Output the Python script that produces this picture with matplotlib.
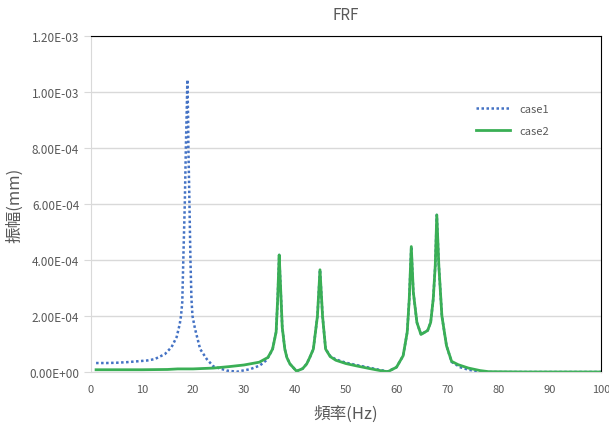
import matplotlib
matplotlib.use('Agg')
import matplotlib.pyplot as plt
import matplotlib.transforms as mtransforms
from matplotlib.ticker import FuncFormatter, MultipleLocator

plt.rcParams['font.family'] = ['Noto Sans CJK TC', 'DejaVu Sans']

# case1 (blue dotted)
f1 = [1, 3, 5, 7, 9, 11, 12.5, 14.5, 15.8, 16.8, 17.4, 17.65, 17.9, 18.1, 18.4,
      18.6, 18.8, 18.9, 19.05, 19.1, 19.3, 19.5, 19.7, 19.9, 20.4, 21.4, 22.7, 24,
      26.6, 28.6, 31.2, 33.1, 34.4, 35.6, 36.3, 36.6, 36.9, 37.2, 37.5, 38.0, 38.4,
      39.0, 40.3, 41.5, 42.3, 42.9, 43.6, 44.4, 44.9, 45.4, 46.0, 46.9, 48.0, 50,
      52, 54.7, 56.7, 58.2, 59.9, 61.2, 62.0, 62.4, 62.8, 63.2, 63.9, 64.7, 66.0,
      66.6, 67.1, 67.5, 67.8, 68.2, 68.8, 69.7, 70.7, 72.4, 74, 75.6, 78, 85, 90, 100]
amp1 = [3.2e-5, 3.2e-5, 3.3e-5, 3.5e-5, 3.8e-5, 4.1e-5, 4.6e-5, 6.4e-5, 8.9e-5,
        1.25e-4, 1.71e-4, 2.0e-4, 2.5e-4, 4.0e-4, 6.07e-4, 8.0e-4, 9.6e-4, 1.044e-3,
        9.0e-4, 8.0e-4, 6.07e-4, 4.0e-4, 2.6e-4, 2.0e-4, 1.54e-4, 8.2e-5, 4.6e-5,
        2.0e-5, 5e-6, 1e-6, 1.0e-5, 2.3e-5, 4.2e-5, 8.0e-5, 1.43e-4, 2.6e-4, 4.18e-4,
        2.9e-4, 1.6e-4, 8.2e-5, 5.2e-5, 2.9e-5, 3e-6, 1.2e-5, 2.9e-5, 5.2e-5, 8.2e-5,
        2.0e-4, 3.65e-4, 2.0e-4, 8.2e-5, 5.7e-5, 4.5e-5, 3.3e-5, 2.5e-5, 1.5e-5, 7e-6,
        2e-6, 1.7e-5, 5.8e-5, 1.42e-4, 2.6e-4, 4.48e-4, 2.85e-4, 1.77e-4, 1.34e-4,
        1.48e-4, 1.77e-4, 2.6e-4, 3.8e-4, 5.61e-4, 3.8e-4, 2.0e-4, 9.4e-5, 3.6e-5,
        1.7e-5, 8e-6, 3e-6, 0, 0, 0, 0]

# case2 (green solid)
f2 = [1, 5, 10, 15, 17, 20, 24, 27, 30, 33, 34.7, 35.6, 36.3, 36.6, 36.9, 37.2,
      37.5, 38.0, 38.4, 39.0, 40.3, 41.5, 42.3, 42.9, 43.6, 44.4, 44.9, 45.4, 46.0,
      46.9, 48.0, 50, 52, 54.7, 56.7, 58.2, 59.9, 61.2, 62.0, 62.4, 62.8, 63.2, 63.9,
      64.7, 66.0, 66.6, 67.1, 67.5, 67.8, 68.2, 68.8, 69.7, 70.7, 72, 74, 76.3, 78,
      85, 90, 100]
amp2 = [8e-6, 8e-6, 8e-6, 9e-6, 1.1e-5, 1.1e-5, 1.4e-5, 1.9e-5, 2.5e-5, 3.5e-5,
        5.2e-5, 8.2e-5, 1.43e-4, 2.6e-4, 4.18e-4, 2.9e-4, 1.6e-4, 8.2e-5, 5.2e-5,
        2.9e-5, 3e-6, 1.2e-5, 2.9e-5, 5.2e-5, 8.2e-5, 2.0e-4, 3.65e-4, 2.0e-4, 8.2e-5,
        5.5e-5, 4.2e-5, 3.0e-5, 2.2e-5, 1.2e-5, 5e-6, 1e-6, 1.7e-5, 5.8e-5, 1.42e-4,
        2.6e-4, 4.48e-4, 2.85e-4, 1.77e-4, 1.34e-4, 1.48e-4, 1.77e-4, 2.6e-4, 3.8e-4,
        5.61e-4, 3.8e-4, 2.0e-4, 9.4e-5, 3.8e-5, 2.6e-5, 1.4e-5, 5e-6, 1e-6, 0, 0, 0]

gray = '#595959'
grid = '#D9D9D9'

fig = plt.figure(figsize=(6.09, 4.27), dpi=100)
ax = fig.add_axes([0.1494, 0.1265, 0.8375, 0.7868])

ax.plot(f1, amp1, color='#4472C4', linewidth=1.8, linestyle=(0, (1, 1)), label='case1')
ax.plot(f2, amp2, color='#3AAF55', linewidth=2.0, label='case2')

ax.set_xlim(0, 100)
ax.set_ylim(0, 1.2e-3)
ax.xaxis.set_major_locator(MultipleLocator(10))
ax.yaxis.set_major_locator(MultipleLocator(2e-4))
ax.yaxis.set_major_formatter(FuncFormatter(lambda v, p: '{:.2E}'.format(v)))
ax.grid(axis='y', color=grid, linewidth=1)
ax.set_axisbelow(True)

for s in ['left', 'bottom']:
    ax.spines[s].set_color(grid)
for s in ['top', 'right']:
    ax.spines[s].set_color('black')
ax.tick_params(axis='y', colors=grid, labelcolor=gray, labelsize=8.5, length=5)
ax.tick_params(axis='x', length=0, labelcolor=gray, labelsize=8, pad=9)

ax.set_title('FRF', color=gray, fontsize=11, pad=12)
ax.set_xlabel('頻率(Hz)', color=gray, fontsize=12, labelpad=7)
ax.set_ylabel('振幅(mm)', color=gray, fontsize=12, labelpad=4)

leg = fig.legend(loc='upper left', bbox_to_anchor=(0.765, 0.778), frameon=False,
                 fontsize=8, handlelength=3.1, labelspacing=1.1)
for t in leg.get_texts():
    t.set_color(gray)

# keep "100" inside the picture: right-align the last tick label
fig.canvas.draw()
ax.get_xticklabels()[-1].set_horizontalalignment('right')
ax.get_xticklabels()[-1].set_transform(
    ax.get_xticklabels()[-1].get_transform() +
    mtransforms.ScaledTranslation(7 / 100, 0, fig.dpi_scale_trans))

fig.savefig('out.png', dpi=100)
